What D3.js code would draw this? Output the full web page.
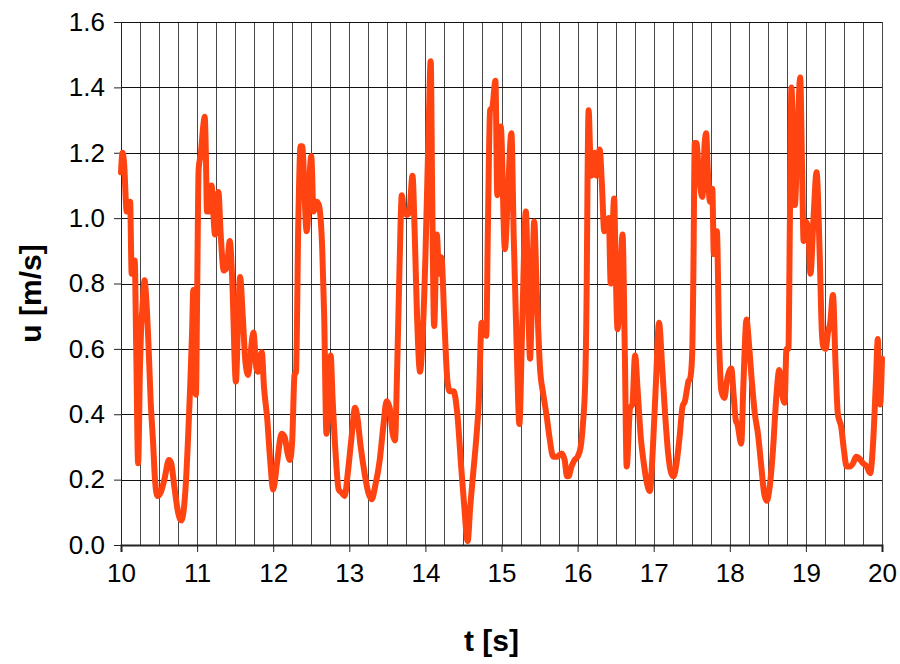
<!DOCTYPE html>
<html>
<head>
<meta charset="utf-8">
<script src="https://cdn.jsdelivr.net/npm/d3@7"></script>
<style>
  body { margin: 0; background: #fff; }
  svg { display: block; font-family: "Liberation Sans", Arial, sans-serif; }
</style>
</head>
<body>
<div id="chart"></div>
<script>
// time [s] and velocity [m/s]
var times = [
  10.00, 10.02, 10.04, 10.075, 10.10, 10.12, 10.14, 10.16, 10.18, 10.20,
  10.225, 10.25, 10.265, 10.28, 10.31, 10.33, 10.36, 10.39, 10.42, 10.45,
  10.48, 10.52, 10.57, 10.63, 10.66, 10.70, 10.75, 10.79, 10.82, 10.85,
  10.88, 10.91, 10.935, 10.95, 10.965, 10.985, 11.00, 11.02, 11.05, 11.08,
  11.10, 11.115, 11.13, 11.16, 11.19, 11.21, 11.235, 11.26, 11.28, 11.31,
  11.35, 11.39, 11.43, 11.46, 11.51, 11.54, 11.565, 11.60, 11.635, 11.67,
  11.70, 11.74, 11.78, 11.80, 11.85, 11.88, 11.92, 11.96, 12.00, 12.05,
  12.11, 12.15, 12.19, 12.22, 12.25, 12.28, 12.30, 12.33, 12.36, 12.38,
  12.44, 12.50, 12.53, 12.57, 12.60, 12.645, 12.67, 12.70, 12.73, 12.755,
  12.78, 12.82, 12.86, 12.90, 12.94, 12.98, 13.03, 13.075, 13.10, 13.15,
  13.20, 13.25, 13.295, 13.34, 13.40, 13.45, 13.49, 13.53, 13.57, 13.60,
  13.63, 13.66, 13.69, 13.72, 13.76, 13.79, 13.83, 13.86, 13.89, 13.93,
  13.96, 14.00, 14.04, 14.07, 14.09, 14.115, 14.15, 14.18, 14.21, 14.25,
  14.29, 14.32, 14.37, 14.42, 14.47, 14.51, 14.555, 14.59, 14.63, 14.67,
  14.70, 14.74, 14.77, 14.80, 14.82, 14.85, 14.88, 14.92, 14.945, 14.99,
  15.045, 15.08, 15.13, 15.16, 15.20, 15.235, 15.27, 15.32, 15.345, 15.375,
  15.40, 15.43, 15.46, 15.505, 15.55, 15.59, 15.63, 15.68, 15.73, 15.79,
  15.83, 15.86, 15.88, 15.92, 15.96, 16.00, 16.04, 16.07, 16.10, 16.12,
  16.13, 16.145, 16.165, 16.185, 16.22, 16.25, 16.29, 16.32, 16.35, 16.41,
  16.435, 16.48, 16.50, 16.525, 16.56, 16.59, 16.62, 16.645, 16.69, 16.72,
  16.755, 16.79, 16.83, 16.87, 16.91, 16.95, 16.99, 17.03, 17.07, 17.11,
  17.15, 17.19, 17.23, 17.26, 17.30, 17.34, 17.38, 17.41, 17.44, 17.455,
  17.48, 17.505, 17.52, 17.54, 17.56, 17.60, 17.64, 17.67, 17.69, 17.71,
  17.74, 17.77, 17.79, 17.81, 17.83, 17.86, 17.89, 17.93, 17.96, 17.99,
  18.02, 18.05, 18.08, 18.10, 18.15, 18.18, 18.22, 18.25, 18.29, 18.33,
  18.37, 18.41, 18.45, 18.485, 18.52, 18.57, 18.61, 18.65, 18.69, 18.72,
  18.745, 18.77, 18.79, 18.81, 18.83, 18.855, 18.89, 18.925, 18.95, 18.97,
  19.00, 19.03, 19.06, 19.10, 19.14, 19.18, 19.21, 19.23, 19.26, 19.29,
  19.32, 19.355, 19.39, 19.42, 19.465, 19.50, 19.535, 19.58, 19.62, 19.66,
  19.70, 19.75, 19.80, 19.845, 19.88, 19.92, 19.945, 19.96, 19.975, 20.00
];
var speeds = [
  1.14, 1.20, 1.17, 1.02, 1.03, 1.05, 0.83, 0.84, 0.87, 0.60,
  0.25, 0.55, 0.67, 0.72, 0.81, 0.76, 0.62, 0.44, 0.32, 0.19,
  0.15, 0.16, 0.20, 0.26, 0.25, 0.18, 0.10, 0.075, 0.10, 0.18,
  0.32, 0.49, 0.66, 0.78, 0.55, 0.46, 0.75, 1.15, 1.20, 1.28,
  1.31, 1.20, 1.02, 1.02, 1.10, 1.03, 0.95, 1.05, 1.08, 0.95,
  0.84, 0.85, 0.93, 0.82, 0.50, 0.70, 0.82, 0.70, 0.56, 0.52,
  0.58, 0.65, 0.54, 0.53, 0.59, 0.48, 0.39, 0.26, 0.17, 0.25,
  0.34, 0.33, 0.28, 0.26, 0.32, 0.52, 0.53, 0.99, 1.22, 1.22,
  0.96, 1.19, 1.02, 1.05, 1.04, 0.90, 0.70, 0.34, 0.45, 0.58,
  0.45, 0.28, 0.17, 0.16, 0.15, 0.22, 0.33, 0.42, 0.40, 0.30,
  0.22, 0.16, 0.14, 0.18, 0.26, 0.37, 0.44, 0.42, 0.34, 0.32,
  0.55, 0.85, 1.07, 1.02, 1.01, 1.02, 1.13, 0.95, 0.70, 0.53,
  0.62, 0.88, 1.25, 1.48, 1.05, 0.67, 0.95, 0.83, 0.88, 0.68,
  0.50, 0.47, 0.47, 0.40, 0.24, 0.12, 0.012, 0.12, 0.225, 0.33,
  0.43, 0.68, 0.66, 0.64, 0.95, 1.33, 1.34, 1.42, 1.07, 1.28,
  0.905, 1.05, 1.26, 0.95, 0.60, 0.37, 0.65, 1.02, 0.82, 0.57,
  0.75, 0.99, 0.80, 0.545, 0.46, 0.40, 0.33, 0.27, 0.27, 0.28,
  0.26, 0.21, 0.21, 0.24, 0.26, 0.27, 0.30, 0.37, 0.50, 0.80,
  1.10, 1.33, 1.20, 1.13, 1.20, 1.13, 1.21, 1.10, 0.96, 1.00,
  0.80, 1.06, 0.85, 0.66, 0.80, 0.95, 0.60, 0.24, 0.42, 0.43,
  0.58, 0.47, 0.33, 0.25, 0.19, 0.165, 0.30, 0.50, 0.68, 0.55,
  0.40, 0.28, 0.22, 0.21, 0.25, 0.33, 0.425, 0.44, 0.48, 0.50,
  0.51, 0.58, 0.80, 1.23, 1.23, 1.12, 1.065, 1.23, 1.26, 1.15,
  1.05, 1.09, 0.89, 0.92, 0.96, 0.62, 0.47, 0.45, 0.50, 0.53,
  0.54, 0.46, 0.38, 0.37, 0.31, 0.50, 0.69, 0.62, 0.50, 0.40,
  0.34, 0.25, 0.16, 0.135, 0.17, 0.30, 0.45, 0.535, 0.46, 0.435,
  0.60, 0.60, 1.00, 1.40, 1.25, 1.04, 1.25, 1.43, 1.15, 0.93,
  0.99, 0.97, 0.83, 1.00, 1.14, 0.90, 0.65, 0.605, 0.60, 0.65,
  0.68, 0.765, 0.55, 0.40, 0.36, 0.29, 0.24, 0.24, 0.25, 0.27,
  0.265, 0.25, 0.24, 0.22, 0.30, 0.50, 0.63, 0.50, 0.43, 0.57
];
var xTicks = [10, 11, 12, 13, 14, 15, 16, 17, 18, 19, 20];
var yTicks = [0, 0.2, 0.4, 0.6, 0.8, 1.0, 1.2, 1.4, 1.6];

var w = 900, h = 664;
var margin = {top: 22, right: 18, bottom: 119, left: 121};

var data = times.map(function (t, i) { return {t: t, u: speeds[i]}; });

var svg = d3.select("#chart").append("svg")
    .attr("width", w)
    .attr("height", h);

var x = d3.scaleLinear().domain([10, 20]).range([margin.left, w - margin.right]);
var y = d3.scaleLinear().domain([0, 1.6]).range([h - margin.bottom, margin.top]);

// vertical grid every 0.25 s
var minor = d3.range(10, 20.001, 0.25);
svg.append("g").selectAll("line")
    .data(minor)
    .enter().append("line")
    .attr("x1", function (d) { return Math.round(x(d)) + 0.5; })
    .attr("x2", function (d) { return Math.round(x(d)) + 0.5; })
    .attr("y1", y(1.6))
    .attr("y2", y(0))
    .attr("stroke", "#474747")
    .attr("stroke-width", 1);

// horizontal grid
svg.append("g").selectAll("line")
    .data(yTicks)
    .enter().append("line")
    .attr("x1", x(10))
    .attr("x2", x(20))
    .attr("y1", function (d) { return Math.round(y(d)) + 0.5; })
    .attr("y2", function (d) { return Math.round(y(d)) + 0.5; })
    .attr("stroke", "#111")
    .attr("stroke-width", 1);

// axes
var xAxis = d3.axisBottom(x).tickValues(xTicks).tickSize(7).tickPadding(12)
    .tickFormat(d3.format("d"));
var yAxis = d3.axisLeft(y).tickValues(yTicks).tickSize(7).tickPadding(9)
    .tickFormat(d3.format(".1f"));

var gx = svg.append("g")
    .attr("transform", "translate(0," + Math.round(y(0)) + ")")
    .call(xAxis);
gx.select(".domain").attr("stroke", "#222").attr("stroke-width", 2);
gx.selectAll(".tick line").attr("stroke", "#222");

var gy = svg.append("g")
    .attr("transform", "translate(" + Math.round(x(10)) + ",0)")
    .call(yAxis);
gy.select(".domain").attr("stroke", "#222");
gy.selectAll(".tick line").attr("stroke", "#222");

svg.selectAll(".tick text")
    .attr("font-size", 26)
    .attr("font-family", "Liberation Sans, Arial, sans-serif")
    .attr("fill", "#000");

// the signal
var line = d3.line()
    .x(function (d) { return x(d.t); })
    .y(function (d) { return y(d.u); })
    .curve(d3.curveMonotoneX);

svg.append("path")
    .datum(data)
    .attr("d", line)
    .attr("fill", "none")
    .attr("stroke", "#ff4412")
    .attr("stroke-width", 6)
    .attr("stroke-linejoin", "round")
    .attr("stroke-linecap", "round");

// axis titles
svg.append("text")
    .attr("x", (x(10) + x(20)) / 2 - 10)
    .attr("y", 651)
    .attr("text-anchor", "middle")
    .attr("font-size", 30)
    .attr("font-weight", "bold")
    .text("t [s]");

svg.append("text")
    .attr("transform", "translate(41," + ((y(0) + y(1.6)) / 2 + 10) + ") rotate(-90)")
    .attr("text-anchor", "middle")
    .attr("font-size", 30)
    .attr("font-weight", "bold")
    .text("u [m/s]");
</script>
</body>
</html>
